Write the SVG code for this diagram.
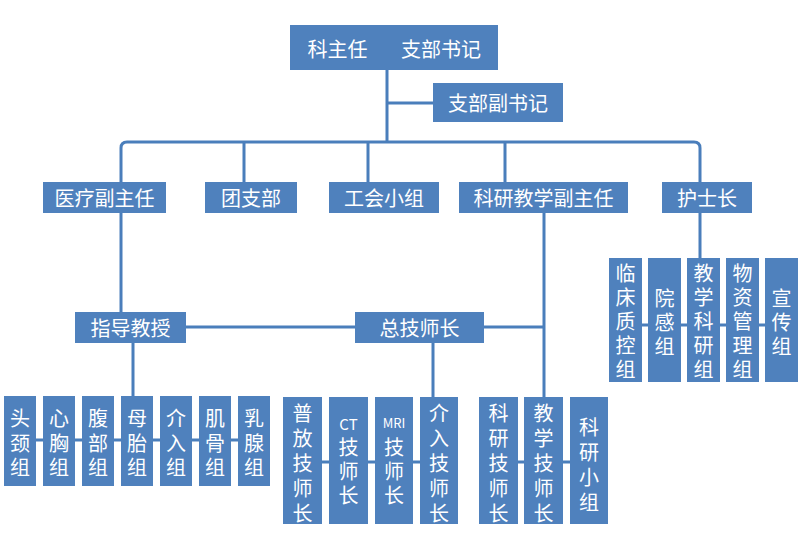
<svg xmlns="http://www.w3.org/2000/svg" width="800" height="541" viewBox="0 0 800 541">
<style>
.b{fill:#4F81BD}
.t{fill:#fff;font-family:"Noto Sans CJK SC","Liberation Sans",sans-serif;font-size:20px;text-anchor:middle;dominant-baseline:central}
.c{fill:none;stroke:#4A7EBB;stroke-width:3}
</style>
<rect width="800" height="541" fill="#fff"/>
<g id="connectors">
<path class="c" d="M387 70V142M387 103H433"/>
<path class="c" d="M121 182V148Q121 142 127 142H694Q700 142 700 148V182"/>
<path class="c" d="M244 142V182M368 142V182M505 142V182"/>
<path class="c" d="M121 213V312M186 327H355M484 327H544M544 213V397"/>
<path class="c" d="M133 343V396M4 440H270"/>
<path class="c" d="M433 343V397M283 462H458M479 462H608"/>
<path class="c" d="M700 213V258M609 325H798"/>
</g>
<g id="n_top"><rect class="b" x="290" y="25" width="208" height="45"/><text class="t" y="47.5"><tspan x="337.5">科主任</tspan><tspan x="441">支部书记</tspan></text></g>
<g id="n_fushuji"><rect class="b" x="433" y="83" width="130" height="39"/><text class="t" x="498" y="102.5">支部副书记</text></g>
<g id="n_yiliao"><rect class="b" x="43" y="182" width="123" height="31"/><text class="t" x="104.5" y="197.5">医疗副主任</text></g>
<g id="n_tuanzhibu"><rect class="b" x="205" y="182" width="92" height="31"/><text class="t" x="251" y="197.5">团支部</text></g>
<g id="n_gonghui"><rect class="b" x="329" y="182" width="110" height="31"/><text class="t" x="384" y="197.5">工会小组</text></g>
<g id="n_keyan"><rect class="b" x="459" y="182" width="169" height="31"/><text class="t" x="543.5" y="197.5">科研教学副主任</text></g>
<g id="n_hushizhang"><rect class="b" x="662" y="182" width="90" height="31"/><text class="t" x="707" y="197.5">护士长</text></g>
<g id="n_zhidao"><rect class="b" x="75" y="312" width="111" height="31"/><text class="t" x="130.5" y="327.5">指导教授</text></g>
<g id="n_zongjishi"><rect class="b" x="355" y="312" width="129" height="31"/><text class="t" x="419.5" y="327.5">总技师长</text></g>

<g id="n_toujing"><rect class="b" x="4" y="396" width="32" height="90"/><text class="t"><tspan x="20" y="417">头</tspan><tspan x="20" y="441.5">颈</tspan><tspan x="20" y="466">组</tspan></text></g>
<g id="n_xinxiong"><rect class="b" x="43" y="396" width="32" height="90"/><text class="t"><tspan x="59" y="417">心</tspan><tspan x="59" y="441.5">胸</tspan><tspan x="59" y="466">组</tspan></text></g>
<g id="n_fubu"><rect class="b" x="82" y="396" width="32" height="90"/><text class="t"><tspan x="98" y="417">腹</tspan><tspan x="98" y="441.5">部</tspan><tspan x="98" y="466">组</tspan></text></g>
<g id="n_mutai"><rect class="b" x="121" y="396" width="32" height="90"/><text class="t"><tspan x="137" y="417">母</tspan><tspan x="137" y="441.5">胎</tspan><tspan x="137" y="466">组</tspan></text></g>
<g id="n_jieru"><rect class="b" x="160" y="396" width="32" height="90"/><text class="t"><tspan x="176" y="417">介</tspan><tspan x="176" y="441.5">入</tspan><tspan x="176" y="466">组</tspan></text></g>
<g id="n_jigu"><rect class="b" x="199" y="396" width="32" height="90"/><text class="t"><tspan x="215" y="417">肌</tspan><tspan x="215" y="441.5">骨</tspan><tspan x="215" y="466">组</tspan></text></g>
<g id="n_ruxian"><rect class="b" x="238" y="396" width="32" height="90"/><text class="t"><tspan x="254" y="417">乳</tspan><tspan x="254" y="441.5">腺</tspan><tspan x="254" y="466">组</tspan></text></g>

<g id="n_pufang"><rect class="b" x="283" y="397" width="39" height="127"/><text class="t"><tspan x="302.5" y="412">普</tspan><tspan x="302.5" y="437">放</tspan><tspan x="302.5" y="462">技</tspan><tspan x="302.5" y="487">师</tspan><tspan x="302.5" y="512">长</tspan></text></g>
<g id="n_ct"><rect class="b" x="329" y="397" width="39" height="127"/><text class="t"><tspan x="348.5" y="423" font-size="15">CT</tspan><tspan x="348.5" y="446">技</tspan><tspan x="348.5" y="470">师</tspan><tspan x="348.5" y="494">长</tspan></text></g>
<g id="n_mri"><rect class="b" x="375" y="397" width="38" height="127"/><text class="t"><tspan x="394" y="422" font-size="13">MRI</tspan><tspan x="394" y="446">技</tspan><tspan x="394" y="470">师</tspan><tspan x="394" y="494">长</tspan></text></g>
<g id="n_jierujishi"><rect class="b" x="420" y="397" width="38" height="127"/><text class="t"><tspan x="439" y="412">介</tspan><tspan x="439" y="437">入</tspan><tspan x="439" y="462">技</tspan><tspan x="439" y="487">师</tspan><tspan x="439" y="512">长</tspan></text></g>
<g id="n_keyanjishi"><rect class="b" x="479" y="397" width="39" height="127"/><text class="t"><tspan x="498.5" y="412">科</tspan><tspan x="498.5" y="437">研</tspan><tspan x="498.5" y="462">技</tspan><tspan x="498.5" y="487">师</tspan><tspan x="498.5" y="512">长</tspan></text></g>
<g id="n_jiaoxuejishi"><rect class="b" x="524" y="397" width="39" height="127"/><text class="t"><tspan x="543.5" y="412">教</tspan><tspan x="543.5" y="437">学</tspan><tspan x="543.5" y="462">技</tspan><tspan x="543.5" y="487">师</tspan><tspan x="543.5" y="512">长</tspan></text></g>
<g id="n_keyanxiaozu"><rect class="b" x="570" y="397" width="38" height="127"/><text class="t"><tspan x="589" y="426">科</tspan><tspan x="589" y="451">研</tspan><tspan x="589" y="476">小</tspan><tspan x="589" y="501">组</tspan></text></g>

<g id="n_linchuang"><rect class="b" x="609" y="258" width="33" height="124"/><text class="t"><tspan x="625.5" y="272">临</tspan><tspan x="625.5" y="296">床</tspan><tspan x="625.5" y="320">质</tspan><tspan x="625.5" y="344">控</tspan><tspan x="625.5" y="368">组</tspan></text></g>
<g id="n_yuangan"><rect class="b" x="648" y="258" width="33" height="124"/><text class="t"><tspan x="664.5" y="297">院</tspan><tspan x="664.5" y="321">感</tspan><tspan x="664.5" y="345">组</tspan></text></g>
<g id="n_jiaoxuekeyan"><rect class="b" x="687" y="258" width="33" height="124"/><text class="t"><tspan x="703.5" y="272">教</tspan><tspan x="703.5" y="296">学</tspan><tspan x="703.5" y="320">科</tspan><tspan x="703.5" y="344">研</tspan><tspan x="703.5" y="368">组</tspan></text></g>
<g id="n_wuzi"><rect class="b" x="726" y="258" width="33" height="124"/><text class="t"><tspan x="742.5" y="272">物</tspan><tspan x="742.5" y="296">资</tspan><tspan x="742.5" y="320">管</tspan><tspan x="742.5" y="344">理</tspan><tspan x="742.5" y="368">组</tspan></text></g>
<g id="n_xuanchuan"><rect class="b" x="765" y="258" width="33" height="124"/><text class="t"><tspan x="781.5" y="297">宣</tspan><tspan x="781.5" y="321">传</tspan><tspan x="781.5" y="345">组</tspan></text></g>
</svg>
